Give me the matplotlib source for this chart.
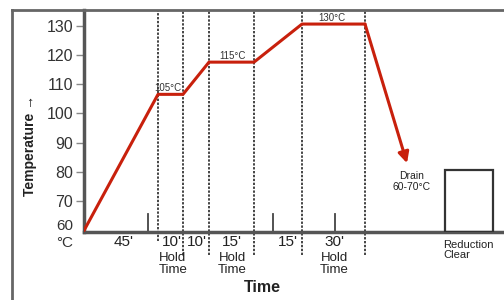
import matplotlib
matplotlib.use("Agg")
from matplotlib import pyplot as plt
from matplotlib.lines import Line2D
from matplotlib.patches import Rectangle

plt.rcParams["font.family"] = ["Liberation Sans", "DejaVu Sans"]

# schematic x positions of stage boundaries (not to scale in minutes)
stage_x = [0, 74, 99, 125, 170, 218, 281]
stage_temp = [60, 106.5, 106.5, 117.5, 117.5, 130.5, 130.5]
drain_x, drain_temp = 323, 83

# labels on the profile
peak_labels = ["105°C", "115°C", "130°C"]
peak_label_x = [84, 148, 248]
peak_label_y = [108.5, 119.5, 132.5]

# vertical guide lines and small ticks
guide_x = [74, 99, 125, 170, 218, 281]
guide_bottom = [56.5, 51.5, 51.5, 51.5, 51.5, 51.5]
small_tick_x = [64, 189, 251]

# duration labels below the axis
dur_labels = ["45'", "10'", "10'", "15'", "15'", "30'"]
dur_x = [40, 88, 113, 148, 204, 250]
hold_x = [89, 148, 250]

# reduction clear box
box_x0, box_x1, box_top = 361, 409, 80.5

yticks = [60, 70, 80, 90, 100, 110, 120, 130]

red = "#c8200c"
grey = "#555555"

fig = plt.figure(figsize=(5.04, 3.0), dpi=100)
ax = fig.add_axes([84 / 504, 1 - 232 / 300, 1 - 84 / 504, 222 / 300])
ax.set_xlim(0, 420)
ax.set_ylim(59.5, 135.3)

for s in ["top", "right"]:
    ax.spines[s].set_visible(False)
for s in ["left", "bottom"]:
    ax.spines[s].set_color(grey)
    ax.spines[s].set_linewidth(2.5)

ax.set_xticks([])
ax.set_yticks(yticks[1:])
ax.set_yticklabels([str(t) for t in yticks[1:]], fontsize=11.5, color="#333333")
ax.tick_params(axis="y", length=6, width=1, color="#888888", pad=2)

ax.text(-11, 61.6, "60", ha="right", va="center", fontsize=11, color="#333333")
ax.text(-11, 55.9, "°C", ha="right", va="center", fontsize=11, color="#333333")

# guide lines
for gx, gb in zip(guide_x, guide_bottom):
    ax.plot([gx, gx], [gb, 135.3], color="#444444", lw=1.4, ls=(0, (1.2, 0.8)),
            clip_on=False, zorder=2)
for tx in small_tick_x:
    ax.plot([tx, tx], [59.5, 65.5], color="#444444", lw=1.3, zorder=2)

# profile
ax.plot(stage_x, stage_temp, color=red, lw=2.2, zorder=4, solid_capstyle="round")
ax.annotate("", xy=(drain_x, drain_temp), xytext=(stage_x[-1], stage_temp[-1]),
            arrowprops=dict(arrowstyle="-|>", color=red, lw=2.2, mutation_scale=16,
                            shrinkA=0, shrinkB=0), zorder=4)

for lab, lx, ly in zip(peak_labels, peak_label_x, peak_label_y):
    ax.text(lx, ly, lab, ha="center", va="center", fontsize=7, color="#333333")

ax.text(drain_x + 5, 78.5, "Drain", ha="center", va="center", fontsize=7.5, color="#222222")
ax.text(drain_x + 5, 75, "60-70°C", ha="center", va="center", fontsize=7.5, color="#222222")

ax.add_patch(Rectangle((box_x0, 59.5), box_x1 - box_x0, box_top - 59.5,
                       fill=False, edgecolor="#333333", lw=1.6, zorder=3))
ax.text(box_x0 - 2, 55, "Reduction", ha="left", va="center", fontsize=8, color="#222222",
        clip_on=False)
ax.text(box_x0 - 2, 51.5, "Clear", ha="left", va="center", fontsize=8, color="#222222",
        clip_on=False)

for lab, dx in zip(dur_labels, dur_x):
    ax.text(dx, 56, lab, ha="center", va="center", fontsize=11, color="#222222", clip_on=False)
for hx in hold_x:
    ax.text(hx, 50.5, "Hold", ha="center", va="center", fontsize=9.5, color="#222222",
            clip_on=False)
    ax.text(hx, 46.5, "Time", ha="center", va="center", fontsize=9.5, color="#222222",
            clip_on=False)

ax.text(178, 40.5, "Time", ha="center", va="center", fontsize=11.5, fontweight="bold",
        color="#222222", clip_on=False)

fig.text(30 / 504, 1 - 146 / 300, "Temperature \u2192", rotation=90, ha="center",
         va="center", fontsize=10, fontweight="bold", color="#222222")

# outer frame
fig.add_artist(Line2D([12 / 504, 12 / 504], [0, 1 - 10 / 300], color="#666666", lw=2))
fig.add_artist(Line2D([12 / 504, 1], [1 - 10 / 300, 1 - 10 / 300], color="#666666", lw=2))

fig.savefig("out.png", dpi=100)
